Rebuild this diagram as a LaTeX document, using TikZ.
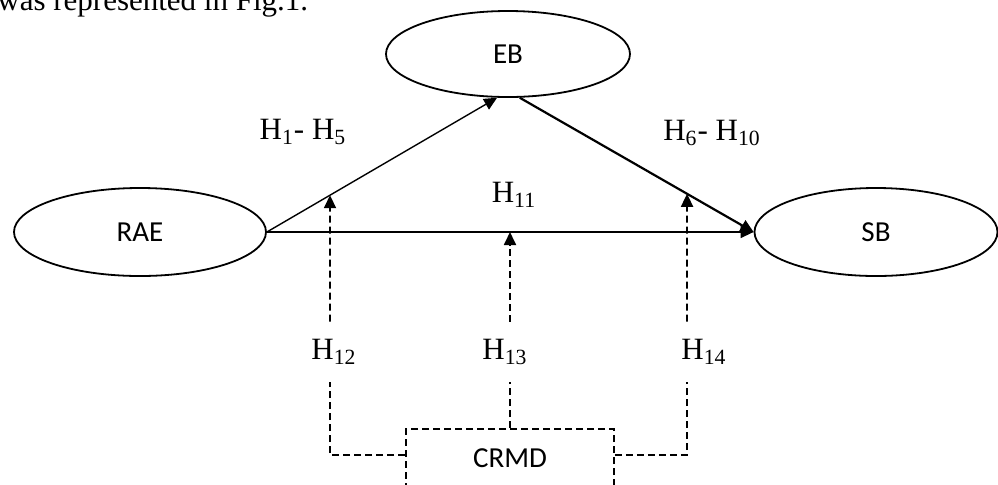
\documentclass[tikz,border=0pt]{standalone}
\usepackage{fontspec}
\setmainfont{Liberation Serif}
\newfontfamily\labelfont{Carlito}
\usetikzlibrary{arrows.meta, positioning, calc, shapes.geometric}

\begin{document}
\begin{tikzpicture}[x=0.5pt, y=-0.5pt,
  construct/.style={draw, ellipse, line width=0.9pt, inner sep=0pt,
    font=\labelfont\fontsize{14.5}{17}\selectfont},
  hyp/.style={font=\fontsize{15.5}{18}\selectfont, inner sep=1pt},
  modlabel/.style={hyp, minimum height=30pt},
  effect/.style={line width=0.7pt, -{Triangle[length=6.5pt, width=6pt]}},
  moddash/.style={line width=0.9pt, dash pattern=on 3.5pt off 2pt},
]
  \clip (0,0) rectangle (998,484);

  % Text above the figure
  \node[hyp, anchor=base west, inner sep=0pt] (intro) at (-3,10) {was represented in Fig.1.};

  % Constructs
  \node[construct, minimum width=122pt, minimum height=43pt] (EB) at (508,54) {EB};
  \node[construct, minimum width=126pt, minimum height=44pt] (RAE) at (140,232) {RAE};
  \node[construct, minimum width=121.5pt, minimum height=44pt] (SB) at (876,232) {SB};
  \node[draw, moddash, minimum width=104pt, minimum height=29pt,
    font=\labelfont\fontsize{14.5}{17}\selectfont] (CRMD) at (510,458) {CRMD};

  % Direct paths
  \draw[effect] (RAE.east) -- (EB.256);
  \draw[effect, line width=1.1pt] (EB.285) -- (SB.west);
  \draw[effect] (RAE.east) -- (SB.west);

  % Hypothesis labels
  \node[hyp] (h1) at (303,132) {H\textsubscript{1}- H\textsubscript{5}};
  \node[hyp] (h6) at (712,133) {H\textsubscript{6}- H\textsubscript{10}};
  \node[hyp] (h11) at (514,195) {H\textsubscript{11}};
  \node[modlabel] (h12) at (334,352) {H\textsubscript{12}};
  \node[modlabel] (h13) at (505,352) {H\textsubscript{13}};
  \node[modlabel] (h14) at (704,352) {H\textsubscript{14}};

  % Moderating paths
  \coordinate (j12) at (330,455);
  \coordinate (j14) at (687,455);
  \coordinate (t12) at (j12 |- h12.north);
  \coordinate (t14) at (j14 |- h14.north);
  \draw[moddash] (CRMD.west |- j12) -- (j12) -- (j12 |- h12.south);
  \draw[moddash, effect, line width=0.9pt] (t12) -- (intersection of j12--t12 and RAE.east--EB.256);
  \draw[moddash] (CRMD.north) -- (CRMD.north |- h13.south);
  \draw[moddash, effect, line width=0.9pt] (CRMD.north |- h13.north) -- (CRMD.north |- RAE.east);
  \draw[moddash] (CRMD.east |- j14) -- (j14) -- (j14 |- h14.south);
  \draw[moddash, effect, line width=0.9pt] (t14) -- (intersection of j14--t14 and EB.285--SB.west);
\end{tikzpicture}
\end{document}
